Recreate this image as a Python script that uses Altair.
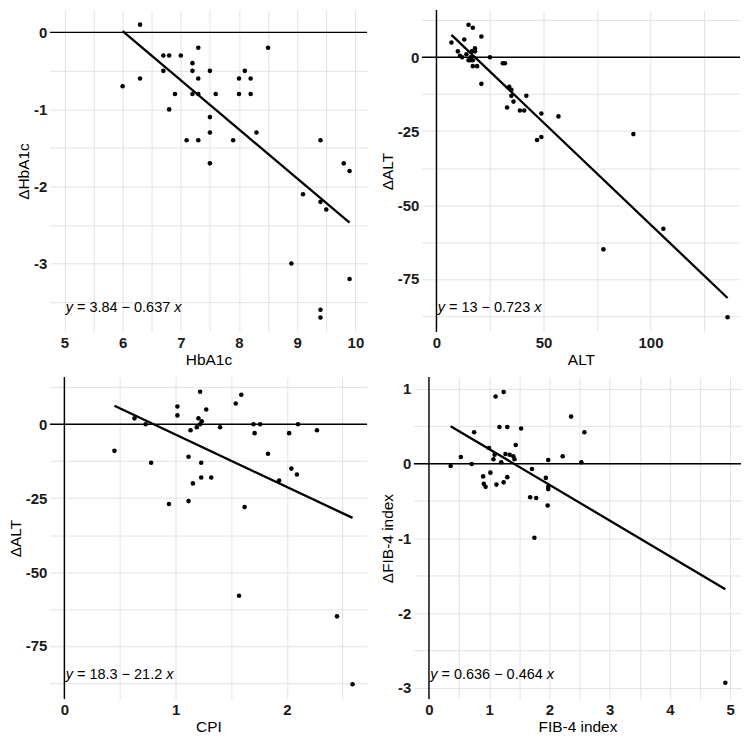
import json
import altair as alt
import pandas as pd

FONT = "Liberation Sans"

# ---------------- data ----------------
hba1c_x = [6.3, 6.0, 6.3, 6.7, 6.8, 7.0, 6.7, 6.9, 6.8, 7.3, 7.2, 7.2, 7.3, 7.2, 7.3,
           7.5, 7.6, 7.5, 7.5, 7.1, 7.3, 7.5, 7.9, 8.0, 8.0, 8.1, 8.2, 8.2, 8.3, 8.5,
           9.4, 9.8, 9.9, 9.1, 9.4, 9.5, 8.9, 9.9, 9.4, 9.4]
hba1c_d = [0.1, -0.7, -0.6, -0.3, -0.3, -0.3, -0.5, -0.8, -1.0, -0.2, -0.4, -0.5, -0.6, -0.8, -0.8,
           -0.5, -0.8, -1.1, -1.3, -1.4, -1.4, -1.7, -1.4, -0.6, -0.8, -0.5, -0.6, -0.8, -1.3, -0.2,
           -1.4, -1.7, -1.8, -2.1, -2.2, -2.3, -3.0, -3.2, -3.6, -3.7]

alt_x = [7, 10, 11, 12, 13, 15, 17, 15, 16, 16.5, 18, 18, 17, 19, 21, 21, 25, 31, 32,
         34, 35, 35, 36, 33, 39, 41, 42, 49, 57, 47, 49, 78, 92, 106, 136, 14, 16, 17]
alt_d = [5, 2, 0.5, 0, 6, 11, 10, -1, -1, 2, 3, 2, -3, -3, 7, -9, 0, -2, -2,
         -10, -11, -13, -15, -17, -18, -18, -13, -19, -20, -28, -27, -65, -26, -58, -88, 1, 0, -1]

cpi_x = [0.45, 0.63, 0.73, 0.78, 0.94, 1.016, 1.016, 1.116, 1.116, 1.155, 1.134, 1.19, 1.205,
         1.22, 1.23, 1.23, 1.22, 1.235, 1.275, 1.32, 1.40, 1.54, 1.59, 1.57, 1.62, 1.70, 1.71,
         1.76, 1.83, 1.93, 2.02, 2.04, 2.09, 2.10, 2.27, 2.45, 2.59]
cpi_d = [-9, 2, 0, -13, -27, 6, 3, -11, -26, -20, -2, -1, 2,
         11, -13, -18, 0, 1, 5, -18, -1, 7, 10, -58, -28, 0, -3,
         0, -10, -19, -3, -15, -17, 0, -2, -65, -88]

fib_x = [0.36, 0.53, 0.71, 0.75, 0.90, 0.91, 0.94, 0.997, 1.02, 1.07, 1.09, 1.106, 1.12,
         1.17, 1.20, 1.24, 1.24, 1.27, 1.30, 1.30, 1.34, 1.40, 1.42, 1.44, 1.53, 1.68,
         1.71, 1.75, 1.78, 1.94, 1.98, 1.98, 1.98, 1.97, 2.22, 2.36, 2.53, 2.58, 4.92]
fib_d = [-0.03, 0.09, -0.004, 0.42, -0.17, -0.27, -0.31, 0.21, -0.12, 0.06, 0.12, 0.90, -0.28,
         0.49, 0.02, 0.96, -0.25, 0.13, 0.49, -0.18, 0.12, 0.10, 0.06, 0.25, 0.47, -0.45,
         -0.07, -0.99, -0.46, -0.19, 0.05, -0.31, -0.34, -0.56, 0.10, 0.63, 0.02, 0.42, -2.93]

x_titles = ["HbA1c", "ALT", "CPI", "FIB-4 index"]
y_titles = ["\u0394HbA1c", "\u0394ALT", "\u0394ALT", "\u0394FIB-4 index"]
eq_intercepts = ["3.84", "13", "18.3", "0.636"]
eq_slopes = ["0.637", "0.723", "21.2", "0.464"]

x_major = [[5, 6, 7, 8, 9, 10], [0, 50, 100], [0, 1, 2], [0, 1, 2, 3, 4, 5]]
y_major = [[-3, -2, -1, 0], [-75, -50, -25, 0], [-75, -50, -25, 0], [-3, -2, -1, 0, 1]]

# ---------------- layout / style ----------------
x_domains = [[4.75, 10.2], [-6.8, 141.8], [-0.13, 2.72], [-0.25, 5.18]]
y_domains = [[-3.89, 0.29], [-93.0, 16.0], [-93.0, 16.0], [-3.15, 1.16]]
widths = [318, 319, 318, 328]
HEIGHT = 323
EQ_SIZE = 14.5

CHAR_W = {"0": .556, "1": .556, "2": .556, "3": .556, "4": .556, "5": .556, "6": .556,
          "7": .556, "8": .556, "9": .556, ".": .278, " ": .278, "=": .584, "\u2212": .584,
          "y": .5, "x": .5}


def text_width(s, size):
    return sum(CHAR_W.get(c, .556) for c in s) * size


def with_minor(majors, dom):
    step = majors[1] - majors[0]
    cands = set(majors)
    for m in [majors[0] - step] + majors:
        cands.add(m + step / 2)
    return sorted(v for v in cands if dom[0] <= v <= dom[1])


def make_axis(title, majors, dom):
    test = f"indexof({json.dumps(majors)}, datum.value) >= 0"
    return alt.Axis(
        title=title,
        values=with_minor(majors, dom),
        labelExpr=f"{test} ? '' + datum.value : ''",
        grid=True,
        gridColor="#e3e3e3",
        gridWidth=1,
        domain=False,
        ticks=False,
        labelOverlap=False,
        labelFlush=False,
        labelFont=FONT,
        labelFontSize=15,
        labelFontWeight="bold",
        labelColor="#1a1a1a",
        labelPadding=3,
        titleFont=FONT,
        titleFontSize=15.5,
        titleFontWeight="normal",
        titleColor="black",
        titlePadding=2,
    )


def panel(i, xs, ys, vline):
    xdom, ydom = x_domains[i], y_domains[i]
    df = pd.DataFrame({"x": xs, "y": ys})
    one = pd.DataFrame({"k": [0]})
    xsc = alt.Scale(domain=xdom, nice=False, zero=False)
    ysc = alt.Scale(domain=ydom, nice=False, zero=False)
    xax = make_axis(x_titles[i], x_major[i], xdom)
    yax = make_axis(y_titles[i], y_major[i], ydom)

    def X(field):
        return alt.X(field, type="quantitative", scale=xsc, axis=xax)

    def Y(field):
        return alt.Y(field, type="quantitative", scale=ysc, axis=yax)

    layers = [alt.Chart(one).mark_rule(color="black", strokeWidth=1.4).encode(
        y=alt.YDatum(0, type="quantitative", scale=ysc, axis=yax))]
    if vline:
        layers.append(alt.Chart(one).mark_rule(color="black", strokeWidth=1.4).encode(
            x=alt.XDatum(0, type="quantitative", scale=xsc, axis=xax)))
    layers.append(alt.Chart(df).mark_circle(size=21, color="black", opacity=1).encode(
        x=X("x"), y=Y("y")))
    layers.append(alt.Chart(df).transform_regression("x", "y").mark_line(
        color="black", strokeWidth=2.3).encode(x=X("x"), y=Y("y")))

    ex = xdom[0] + 0.05 * (xdom[1] - xdom[0])
    ey = ydom[0] + 0.062 * (ydom[1] - ydom[0])
    mid = f"= {eq_intercepts[i]} \u2212 {eq_slopes[i]}"
    pieces = [("y", "italic", 0.0),
              (mid, "normal", text_width("y ", EQ_SIZE)),
              ("x", "italic", text_width("y " + mid + " ", EQ_SIZE))]
    for s, style, dx in pieces:
        layers.append(alt.Chart(one).mark_text(
            text=s, font=FONT, fontSize=EQ_SIZE, fontStyle=style, align="left",
            baseline="alphabetic", dx=dx, color="black").encode(
            x=alt.XDatum(ex, type="quantitative", scale=xsc, axis=xax),
            y=alt.YDatum(ey, type="quantitative", scale=ysc, axis=yax)))
    return alt.layer(*layers).properties(width=widths[i], height=HEIGHT)


p1 = panel(0, hba1c_x, hba1c_d, False)
p2 = panel(1, alt_x, alt_d, True)
p3 = panel(2, cpi_x, cpi_d, True)
p4 = panel(3, fib_x, fib_d, True)

chart = alt.vconcat(
    alt.hconcat(p1, p2, spacing=12),
    alt.hconcat(p3, p4, spacing=12),
    spacing=8,
).configure_view(stroke=None).properties(padding=0, background="white")

chart.save("out.html", embed_options={"renderer": "svg", "actions": False})
